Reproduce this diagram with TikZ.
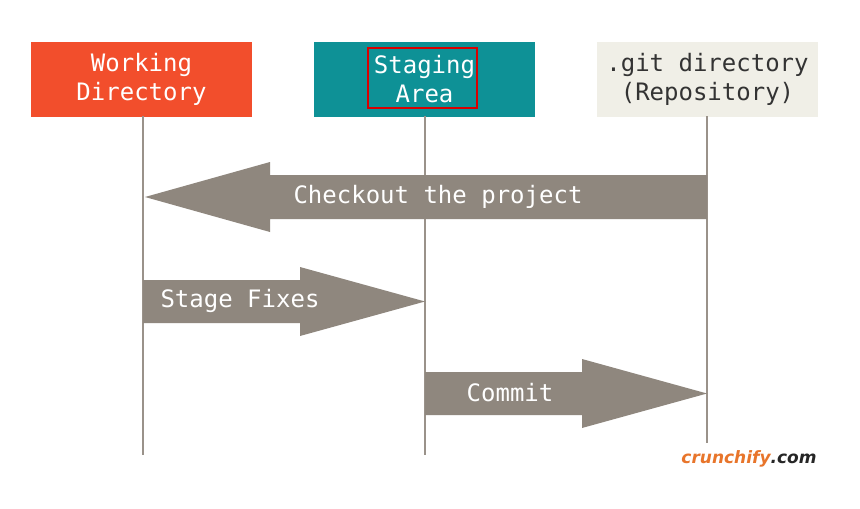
\documentclass[tikz,border=0pt]{standalone}
\usepackage{fontspec}
\setmonofont{DejaVu Sans Mono}
\newfontfamily\logofont{DejaVu Sans}
\definecolor{wd}{HTML}{F24E2C}
\definecolor{sa}{HTML}{0E9196}
\definecolor{gd}{HTML}{F0EFE7}
\definecolor{ar}{HTML}{8F877E}
\definecolor{ln}{HTML}{9A928A}
\definecolor{lg}{HTML}{E8752B}
\begin{document}
\begin{tikzpicture}[x=1pt,y=-1pt,
  box/.style={minimum width=221pt,minimum height=75pt,inner sep=0pt,align=center,font=\ttfamily\fontsize{24}{29}\selectfont},
  life/.style={draw=ln,line width=1.6pt},
  arr/.style={fill=ar},
  lbl/.style={text=white,font=\ttfamily\fontsize{24}{28}\selectfont}]
\useasboundingbox (0,0) rectangle (860,509);
\fill[white] (0,0) rectangle (860,509);
\node[box,fill=wd,text=white] (wd) at (141.5,79.5) {Working\\Directory};
\node[box,fill=sa,text=white] (sa) at (424.5,79.5) {Staging\\Area};
\draw[red!85!black,line width=1.3pt] (368,48) rectangle (477,108);
\node[box,fill=gd,text=black!80] (gd) at (707.5,79.5) {.git directory\\(Repository)};
\coordinate (wdE) at (143,455);
\coordinate (saE) at (425,455);
\coordinate (gdE) at (707,455);
\draw[life] (143,116) -- (wdE);
\draw[life] (425,116) -- (saE);
\draw[life] (707,116) -- (gdE);
\fill[arr] (707,175) -- (270,175) -- (270,162) -- (145,197) -- (270,232) -- (270,219) -- (707,219) -- cycle;
\node[lbl] (a1) at (438,197) {Checkout the project};
\fill[arr] (143,280) -- (300,280) -- (300,267) -- (425,301.5) -- (300,336) -- (300,323) -- (143,323) -- cycle;
\node[lbl] (a2) at (240,301) {Stage Fixes};
\fill[arr] (425,372) -- (582,372) -- (582,359) -- (707,393.5) -- (582,428) -- (582,415) -- (425,415) -- cycle;
\node[lbl] (a3) at (510,393) {Commit};
\node[fill=white,minimum width=162pt,minimum height=32pt,inner sep=0pt,font=\logofont\bfseries\itshape\fontsize{17}{20}\selectfont] (logo) at (749,459) {\textcolor{lg}{crunchify}\textcolor{black!85}{.com}};
\end{tikzpicture}
\end{document}
